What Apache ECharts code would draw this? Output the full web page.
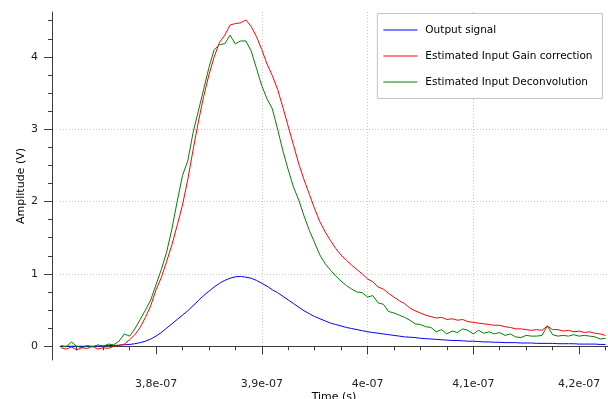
<!DOCTYPE html>
<html>
<head>
<meta charset="utf-8">
<script src="https://cdn.jsdelivr.net/npm/echarts@6/dist/echarts.min.js"></script>
<style>
  html, body { margin: 0; padding: 0; background: #fff; }
  #chart { width: 608px; height: 399px; }
</style>
</head>
<body>
<div id="chart"></div>
<script>
// time in ns (shown as seconds on the axis)
const times = [
  371, 371.5, 372, 372.5, 373, 373.5, 374, 374.5, 375, 375.5,
  376, 376.5, 377, 377.5, 378, 378.5, 379, 379.5, 380, 380.5,
  381, 381.5, 382, 382.5, 383, 383.5, 384, 384.5, 385, 385.5,
  386, 386.5, 387, 387.5, 388, 388.5, 389, 389.5, 390, 390.5,
  391, 391.5, 392, 392.5, 393, 393.5, 394, 394.5, 395, 395.5,
  396, 396.5, 397, 397.5, 398, 398.5, 399, 399.5, 400, 400.5,
  401, 401.5, 402, 402.5, 403, 403.5, 404, 404.5, 405, 405.5,
  406, 406.5, 407, 407.5, 408, 408.5, 409, 409.5, 410, 410.5,
  411, 411.5, 412, 412.5, 413, 413.5, 414, 414.5, 415, 415.5,
  416, 416.5, 417, 417.5, 418, 418.5, 419, 419.5, 420, 420.5,
  421, 421.5, 422, 422.5
];

const outputSignal = [
  0, 0, 0, 0, 0, 0, 0, 0, 0.005, 0.01,
  0.01, 0.015, 0.02, 0.025, 0.035, 0.05, 0.07, 0.10, 0.14, 0.19,
  0.25, 0.31, 0.37, 0.43, 0.49, 0.56, 0.63, 0.70, 0.76, 0.82,
  0.87, 0.91, 0.94, 0.96, 0.965, 0.955, 0.94, 0.91, 0.87, 0.83,
  0.78, 0.74, 0.69, 0.64, 0.59, 0.54, 0.49, 0.45, 0.41, 0.38,
  0.35, 0.32, 0.30, 0.28, 0.26, 0.245, 0.23, 0.215, 0.20, 0.19,
  0.18, 0.17, 0.16, 0.15, 0.14, 0.13, 0.125, 0.12, 0.11, 0.105,
  0.10, 0.095, 0.09, 0.085, 0.08, 0.08, 0.075, 0.07, 0.07, 0.065,
  0.06, 0.06, 0.055, 0.055, 0.05, 0.05, 0.05, 0.045, 0.045, 0.045,
  0.04, 0.04, 0.04, 0.04, 0.035, 0.035, 0.035, 0.035, 0.03, 0.03,
  0.03, 0.03, 0.025, 0.025
];

const gainCorrection = [
  -0.02, -0.04, -0.01, -0.05, -0.02, -0.03, 0.00, -0.04, -0.02, -0.03,
  0.00, 0.01, 0.03, 0.09, 0.16, 0.26, 0.40, 0.56, 0.78, 0.95,
  1.17, 1.40, 1.67, 1.95, 2.30, 2.71, 3.10, 3.45, 3.75, 4.00,
  4.20, 4.30, 4.44, 4.46, 4.47, 4.51, 4.42, 4.28, 4.10, 3.90,
  3.74, 3.55, 3.30, 3.04, 2.78, 2.52, 2.30, 2.10, 1.90, 1.72,
  1.58, 1.46, 1.35, 1.26, 1.19, 1.12, 1.06, 1.00, 0.93, 0.89,
  0.82, 0.79, 0.73, 0.68, 0.63, 0.59, 0.53, 0.49, 0.46, 0.43,
  0.41, 0.39, 0.40, 0.37, 0.38, 0.36, 0.37, 0.34, 0.33, 0.32,
  0.31, 0.30, 0.29, 0.29, 0.27, 0.26, 0.24, 0.24, 0.23, 0.22,
  0.23, 0.22, 0.28, 0.23, 0.23, 0.21, 0.22, 0.20, 0.21, 0.19,
  0.20, 0.18, 0.17, 0.15
];

const deconvolution = [
  0.01, -0.01, 0.06, 0.00, -0.02, 0.01, -0.01, 0.02, 0.00, 0.03,
  0.02, 0.07, 0.17, 0.14, 0.24, 0.37, 0.50, 0.64, 0.85, 1.06,
  1.30, 1.62, 2.00, 2.36, 2.56, 2.95, 3.25, 3.55, 3.85, 4.10,
  4.17, 4.18, 4.30, 4.18, 4.22, 4.22, 4.08, 3.84, 3.60, 3.42,
  3.28, 3.00, 2.70, 2.44, 2.20, 2.02, 1.80, 1.60, 1.43, 1.26,
  1.14, 1.05, 0.97, 0.90, 0.84, 0.79, 0.75, 0.74, 0.68, 0.70,
  0.60, 0.58, 0.48, 0.46, 0.43, 0.40, 0.36, 0.31, 0.30, 0.27,
  0.26, 0.20, 0.23, 0.17, 0.21, 0.19, 0.24, 0.22, 0.17, 0.22,
  0.18, 0.20, 0.17, 0.19, 0.15, 0.17, 0.13, 0.12, 0.15, 0.14,
  0.14, 0.15, 0.28, 0.16, 0.14, 0.15, 0.14, 0.16, 0.14, 0.15,
  0.14, 0.13, 0.10, 0.11
];

const seriesNames = ['Output signal', 'Estimated Input Gain correction', 'Estimated Input Deconvolution'];
const seriesColors = ['#0000ff', '#ff0000', '#008000'];

const xMajor = [380, 390, 400, 410, 420];
const xTickLabels = ['3,8e-07', '3,9e-07', '4e-07', '4,1e-07', '4,2e-07'];
const xMinor = [372.5, 375, 377.5, 382.5, 385, 387.5, 392.5, 395, 397.5, 402.5, 405, 407.5, 412.5, 415, 417.5, 422.5];
const yMajor = [0, 1, 2, 3, 4];
const yMinor = [0.25, 0.5, 0.75, 1.25, 1.5, 1.75, 2.25, 2.5, 2.75, 3.25, 3.5, 3.75, 4.25, 4.5];

const X_MIN = 370.92, X_MAX = 422.74;
const Y_MIN = -0.19, Y_MAX = 4.62;

const font = 'DejaVu Sans';
const axisColor = '#3c3c3c';

const chart = echarts.init(document.getElementById('chart'));

const pairs = (vals) => times.map((t, i) => [t, vals[i]]);

chart.setOption({
  animation: false,
  grid: { left: 60, right: 0, top: 12, bottom: 39, outerBoundsMode: 'none', containLabel: false },
  legend: {
    orient: 'vertical',
    right: 5.5,
    top: 13.5,
    padding: [11, 10, 11, 6],
    itemGap: 15,
    itemWidth: 34,
    itemHeight: 1,
    icon: 'rect',
    backgroundColor: '#fff',
    borderColor: '#c4c4c4',
    borderWidth: 1,
    textStyle: { fontFamily: font, fontSize: 10.5, color: '#000', padding: [0, 0, 0, 3] },
    data: seriesNames
  },
  xAxis: [{
    type: 'value',
    min: X_MIN,
    max: X_MAX,
    position: 'bottom',
    offset: 3,
    name: 'Time (s)',
    nameLocation: 'middle',
    nameGap: 29,
    nameMoveOverlap: false,
    nameTextStyle: { fontFamily: font, fontSize: 11, color: '#000' },
    axisLine: { lineStyle: { color: axisColor, width: 1 } },
    axisTick: { customValues: xMajor, length: 8, lineStyle: { color: axisColor } },
    axisLabel: {
      customValues: xMajor,
      margin: 16,
      fontFamily: font,
      fontSize: 11,
      color: '#222',
      formatter: (v) => xTickLabels[xMajor.indexOf(Math.round(v))] || ''
    },
    splitLine: { show: true, showMinLine: false, showMaxLine: false, lineStyle: { color: '#c8c8c8', type: [1, 2] } }
  }, {
    type: 'value',
    min: X_MIN,
    max: X_MAX,
    position: 'bottom',
    offset: 3,
    axisLine: { show: false },
    axisTick: { customValues: xMinor, length: 4, lineStyle: { color: axisColor } },
    axisLabel: { show: false },
    splitLine: { show: false }
  }],
  yAxis: [{
    type: 'value',
    min: Y_MIN,
    max: Y_MAX,
    position: 'left',
    offset: 8,
    name: 'Amplitude (V)',
    nameLocation: 'middle',
    nameGap: 25,
    nameMoveOverlap: false,
    nameTextStyle: { fontFamily: font, fontSize: 11, color: '#000' },
    axisLine: { show: true, lineStyle: { color: axisColor, width: 1 } },
    axisTick: { show: true, customValues: yMajor, length: 8, lineStyle: { color: axisColor } },
    axisLabel: { customValues: yMajor, margin: 14, fontFamily: font, fontSize: 11, color: '#222' },
    splitLine: { show: true, showMinLine: false, showMaxLine: false, lineStyle: { color: '#c8c8c8', type: [1, 2] } }
  }, {
    type: 'value',
    min: Y_MIN,
    max: Y_MAX,
    position: 'left',
    offset: 8,
    axisLine: { show: false },
    axisTick: { show: true, customValues: yMinor, length: 4, lineStyle: { color: axisColor } },
    axisLabel: { show: false },
    splitLine: { show: false }
  }],
  series: [outputSignal, gainCorrection, deconvolution].map((vals, i) => ({
    name: seriesNames[i],
    type: 'line',
    data: pairs(vals),
    showSymbol: false,
    symbol: 'none',
    color: seriesColors[i],
    itemStyle: { color: seriesColors[i] },
    lineStyle: { width: 1, color: seriesColors[i] },
    xAxisIndex: 0,
    yAxisIndex: 0
  }))
});
</script>
</body>
</html>
